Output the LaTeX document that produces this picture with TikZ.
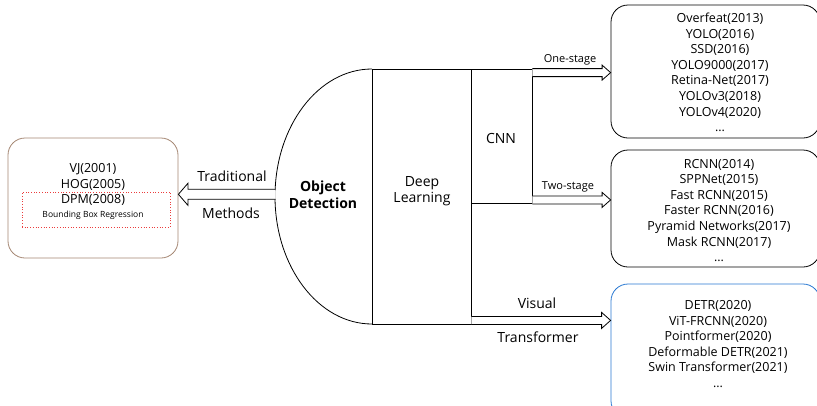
\documentclass[tikz,border=0pt]{standalone}
\usepackage{fontspec}
\setmainfont{Open Sans}
\usetikzlibrary{arrows.meta,calc}
\definecolor{brownb}{RGB}{165,135,115}
\definecolor{blueb}{RGB}{40,120,210}
\definecolor{dotred}{RGB}{235,60,60}
\begin{document}
\begin{tikzpicture}[x=1pt,y=-1pt,
  box/.style={draw, line width=0.8pt, rounded corners=17pt, inner sep=0pt},
  plain/.style={draw, line width=0.8pt, inner sep=0pt},
  big/.style={font=\fontsize{14}{16.5}\selectfont, inner sep=0pt},
  lst/.style={font=\fontsize{12.5}{15.6}\selectfont, align=center, inner sep=0pt},
  small/.style={font=\fontsize{11}{13}\selectfont, inner sep=0pt},
  rarrow/.style args={#1/#2/#3}{draw, fill=white, line width=0.8pt, line join=miter,
    to path={($(\tikztostart)+(0,-#1)$) -- ($(\tikztotarget)+(-#3,-#1)$) -- ($(\tikztotarget)+(-#3,-#2)$)
      -- (\tikztotarget) -- ($(\tikztotarget)+(-#3,#2)$) -- ($(\tikztotarget)+(-#3,#1)$)
      -- ($(\tikztostart)+(0,#1)$)}},
  larrow/.style args={#1/#2/#3}{draw, fill=white, line width=0.8pt, line join=miter,
    to path={($(\tikztostart)+(0,-#1)$) -- ($(\tikztotarget)+(#3,-#1)$) -- ($(\tikztotarget)+(#3,-#2)$)
      -- (\tikztotarget) -- ($(\tikztotarget)+(#3,#2)$) -- ($(\tikztotarget)+(#3,#1)$)
      -- ($(\tikztostart)+(0,#1)$)}},
]
\clip (0,0) rectangle (817,405);
\fill[white] (0,0) rectangle (817,405);

% left box
\node[box, draw=brownb, minimum width=170pt, minimum height=120pt] (trad) at (93,198) {};
\node[lst] (tl1) at (93,177) {VJ(2001)\\HOG(2005)};
\node[draw=dotred, dotted, line width=0.7pt, minimum width=148pt, minimum height=35pt, inner sep=0pt] (dpmbox) at (96,209.5) {};
\node[lst] (dpm) at (93,200) {DPM(2008)};
\node[font=\fontsize{8.5}{10}\selectfont, inner sep=0pt] (bbr) at (93,215) {Bounding Box Regression};

% object detection half ellipse
\draw[line width=0.8pt] (372,69) .. controls (318.4,69) and (275,126.1) .. (275,196.5)
  .. controls (275,266.9) and (318.4,324) .. (372,324);
\node[font=\bfseries\fontsize{14}{17}\selectfont, align=center, inner sep=0pt] (od) at (323,195) {Object\\Detection};

% deep learning and CNN
\node[plain, minimum width=99pt, minimum height=255pt] (dl) at (421.5,196.5) {};
\node[big, align=center] (dlt) at (422,191) {Deep\\Learning};
\node[plain, minimum width=61pt, minimum height=134pt] (cnn) at (501.5,136) {};
\node[big] (cnnt) at (501,138) {CNN};

% right boxes
\node[box, minimum width=209pt, minimum height=133pt] (b1) at (715.5,71.5) {};
\node[lst] (b1t) at (720,72.5) {Overfeat(2013)\\YOLO(2016)\\SSD(2016)\\YOLO9000(2017)\\Retina-Net(2017)\\YOLOv3(2018)\\YOLOv4(2020)\\...};
\node[box, minimum width=209pt, minimum height=117pt] (b2) at (715.5,208.5) {};
\node[lst] (b2t) at (719,210.5) {RCNN(2014)\\SPPNet(2015)\\Fast RCNN(2015)\\Faster RCNN(2016)\\Pyramid Networks(2017)\\Mask RCNN(2017)\\...};
\node[box, draw=blueb, minimum width=209pt, minimum height=134pt] (b3) at (715.5,351) {};
\node[lst] (b3t) at (718,344) {DETR(2020)\\ViT-FRCNN(2020)\\Pointformer(2020)\\Deformable DETR(2021)\\Swin Transformer(2021)\\...};

% arrows
\coordinate (odl) at (275.5,194.3);
\draw[larrow=5/11/9.5] (odl) to (odl -| trad.east);
\coordinate (os) at ([yshift=-4pt]cnn.north east);
\draw[rarrow=4/7.5/8.5] (os) to (os -| b1.west);
\coordinate (ts) at ([yshift=3.5pt]cnn.south east);
\draw[rarrow=4/7.5/8.5] (ts) to (ts -| b2.west);
\coordinate (vt) at ([yshift=4pt]dl.south east);
\draw[rarrow=4/8/9] (vt) to (vt -| b3.west);

% arrow labels
\node[big] (trl) at (232,176) {Traditional};
\node[big] (mel) at (231,213) {Methods};
\node[small] (osl) at (570,60) {One-stage};
\node[small] (tsl) at (568,187) {Two-stage};
\node[big] (vsl) at (537,303) {Visual};
\node[big] (tfl) at (538,337) {Transformer};
\end{tikzpicture}
\end{document}
